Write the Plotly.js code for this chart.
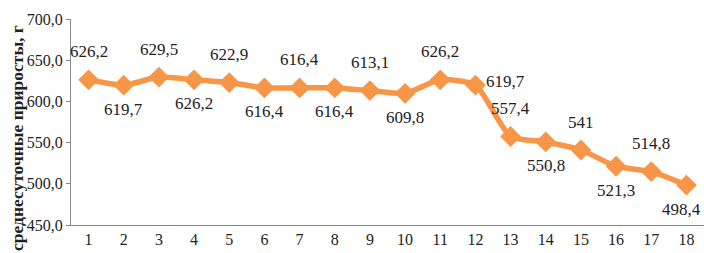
<!DOCTYPE html>
<html><head><meta charset="utf-8">
<script src="https://cdn.plot.ly/plotly-3.0.1.min.js"></script>
<style>html,body{margin:0;padding:0;background:#fff}#c{width:704px;height:253px}</style>
</head><body><div id="c"></div>
<script>
const categories = [1,2,3,4,5,6,7,8,9,10,11,12,13,14,15,16,17,18];
const values = [626.2,619.7,629.5,626.2,622.9,616.4,616.4,616.4,613.1,609.8,626.2,619.7,557.4,550.8,541,521.3,514.8,498.4];
const labels = ["626,2","619,7","629,5","626,2","622,9","616,4","616,4","616,4","613,1","609,8","626,2","619,7","557,4","550,8","541","521,3","514,8","498,4"];
const labelSide = ["up","down","up","down","up","down","up","down","up","down","up","right","up","down","up","down","up","downEdge"];
const yTitle = "среднесуточные приросты, г";

const color = "#F79646";
const font = "Liberation Serif";

const annotations = categories.map((c,i)=>{
  const s = labelSide[i];
  return {
    x: c, y: values[i], xref:'x', yref:'y', text: labels[i], showarrow:false,
    font:{family:font,size:17,color:'#222'},
    xanchor: s==='right' ? 'left' : 'center',
    yanchor: 'middle',
    xshift: s==='right' ? 9 : (s==='downEdge' ? -5 : 0),
    yshift: s==='up' ? 28 : (s==='right' ? 4 : -24)
  };
});
annotations.push({
  xref:'paper', yref:'paper', x:0, y:0.5, xanchor:'center', yanchor:'middle',
  xshift:-54, yshift:-16, textangle:-90, showarrow:false, text:yTitle,
  font:{family:font,size:17.5,color:'#222',weight:'bold'}
});

Plotly.newPlot('c', [{
  x: categories, y: values, type:'scatter', mode:'lines+markers',
  line:{color:color,width:5.5,shape:'spline',smoothing:0.6},
  marker:{symbol:'diamond',size:16,color:color},
  hoverinfo:'none'
}], {
  width:704, height:253,
  margin:{l:71,r:0,t:19,b:28},
  paper_bgcolor:'#fff', plot_bgcolor:'#fff',
  separators:', ',
  showlegend:false,
  font:{family:font},
  xaxis:{range:[0.5,18.5], tickvals:categories, ticktext:categories.map(String),
    showgrid:false, zeroline:false, showline:true, linecolor:'#888', linewidth:1,
    ticks:'', tickfont:{family:font,size:16,color:'#222'}},
  yaxis:{range:[450,700], dtick:50, tick0:450, tickformat:'.1f',
    showgrid:false, zeroline:false, showline:true, linecolor:'#888', linewidth:1,
    ticks:'outside', ticklen:4, tickcolor:'#888',
    tickfont:{family:font,size:16,color:'#222'}},
  annotations: annotations
}, {staticPlot:true});
</script></body></html>
